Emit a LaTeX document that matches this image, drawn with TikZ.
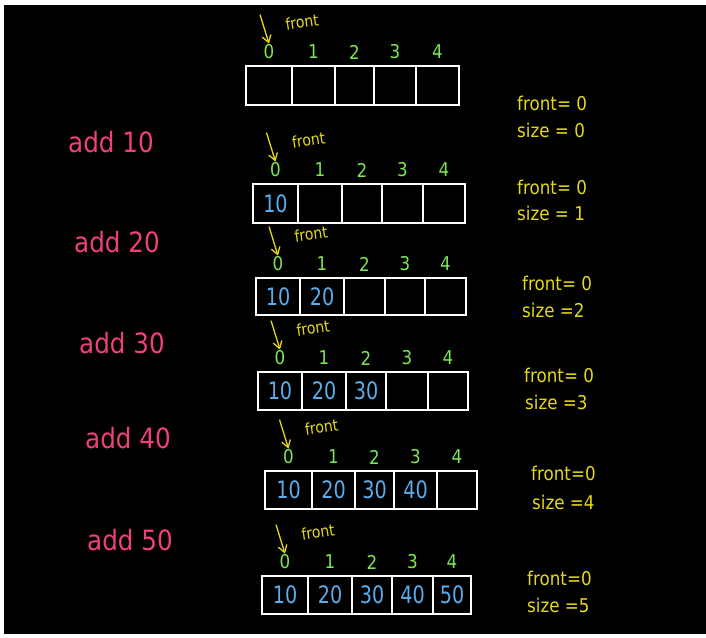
\documentclass[tikz,border=0pt]{standalone}
\usepackage{fontspec}
\setmainfont{DejaVu Sans}
\newfontfamily\handA[FakeStretch=0.8]{DejaVu Sans}
\newfontfamily\handB[FakeStretch=0.88]{DejaVu Sans}
\usetikzlibrary{arrows.meta}
\definecolor{pinkc}{RGB}{240,64,120}
\definecolor{greenc}{RGB}{125,230,85}
\definecolor{yellowc}{RGB}{228,216,24}
\definecolor{bluec}{RGB}{90,172,235}
\tikzset{
 cell/.style={draw=white, line width=2pt, inner sep=0pt, text=bluec, font=\handA\fontsize{24}{24}\selectfont},
 idx/.style={text=greenc, font=\handB\fontsize{19}{19}\selectfont, inner sep=1pt},
 fr/.style={text=yellowc, font=\handB\fontsize{16}{16}\selectfont, rotate=8, inner sep=0pt},
 farrow/.style={draw=yellowc, line width=1.3pt, -{Straight Barb[length=7pt,width=9pt]}},
 op/.style={text=pinkc, font=\handB\fontsize{28}{28}\selectfont, anchor=west, inner sep=0pt},
 st/.style={text=yellowc, font=\handB\fontsize{19}{19}\selectfont, anchor=west, inner sep=0pt},
}
\newcommand\qarr[4]{%
 \foreach \xa/\xb/\v [count=\k from 0] in {#4} {
   \node[cell, minimum width={(\xb-\xa)*1pt}, minimum height={(#3-#2)*1pt}] (#1c\k) at ({(\xa+\xb)/2},{(#2+#3)/2+1}) {\v};
   \node[idx] (#1i\k) at ({(\xa+\xb)/2},{#2-13}) {\k};
 }
 \coordinate (#1s) at ([shift={(-9,-29)}]#1i0.north);
 \draw[farrow] (#1s) -- (#1i0.north);
 \node[fr] (#1f) at ([shift={(33,-30)}]#1i0.center) {front};
}
\begin{document}
\begin{tikzpicture}[x=1pt,y=-1pt]
\fill[white] (0,0) rectangle (706,637);
\fill[black] (4,5) rectangle (706,634);
\useasboundingbox (0,0) rectangle (706,637);

\qarr{a}{65}{104}{246/292/{},292/335/{},335/374/{},374/416/{},416/459/{}}
\qarr{b}{183}{222}{253/298/10,298/342/{},342/382/{},382/423/{},423/465/{}}
\qarr{c}{277}{314}{256/300/10,300/344/20,344/385/{},385/425/{},425/466/{}}
\qarr{d}{371}{409}{258/302/10,302/346/20,346/386/30,386/428/{},428/468/{}}
\qarr{e}{470}{508}{265/312/10,312/355/20,355/394/30,394/437/40,437/477/{}}
\qarr{f}{575}{613}{262/308/10,308/352/20,352/392/30,392/433/40,433/471/50}

\node[op] (op1) at (68,142) {add 10};
\node[op] (op2) at (74,242) {add 20};
\node[op] (op3) at (79,343) {add 30};
\node[op] (op4) at (85,438) {add 40};
\node[op] (op5) at (87,540) {add 50};

\node[st] (s0f) at (517,103) {front= 0};
\node[st] (s0s) at (517,130) {size = 0};
\node[st] (s1f) at (517,187) {front= 0};
\node[st] (s1s) at (517,213) {size = 1};
\node[st] (s2f) at (522,283) {front= 0};
\node[st] (s2s) at (522,310) {size =2};
\node[st] (s3f) at (524,375) {front= 0};
\node[st] (s3s) at (525,402) {size =3};
\node[st] (s4f) at (531,473) {front=0};
\node[st] (s4s) at (532,502) {size =4};
\node[st] (s5f) at (527,578) {front=0};
\node[st] (s5s) at (527,605) {size =5};
\end{tikzpicture}
\end{document}
